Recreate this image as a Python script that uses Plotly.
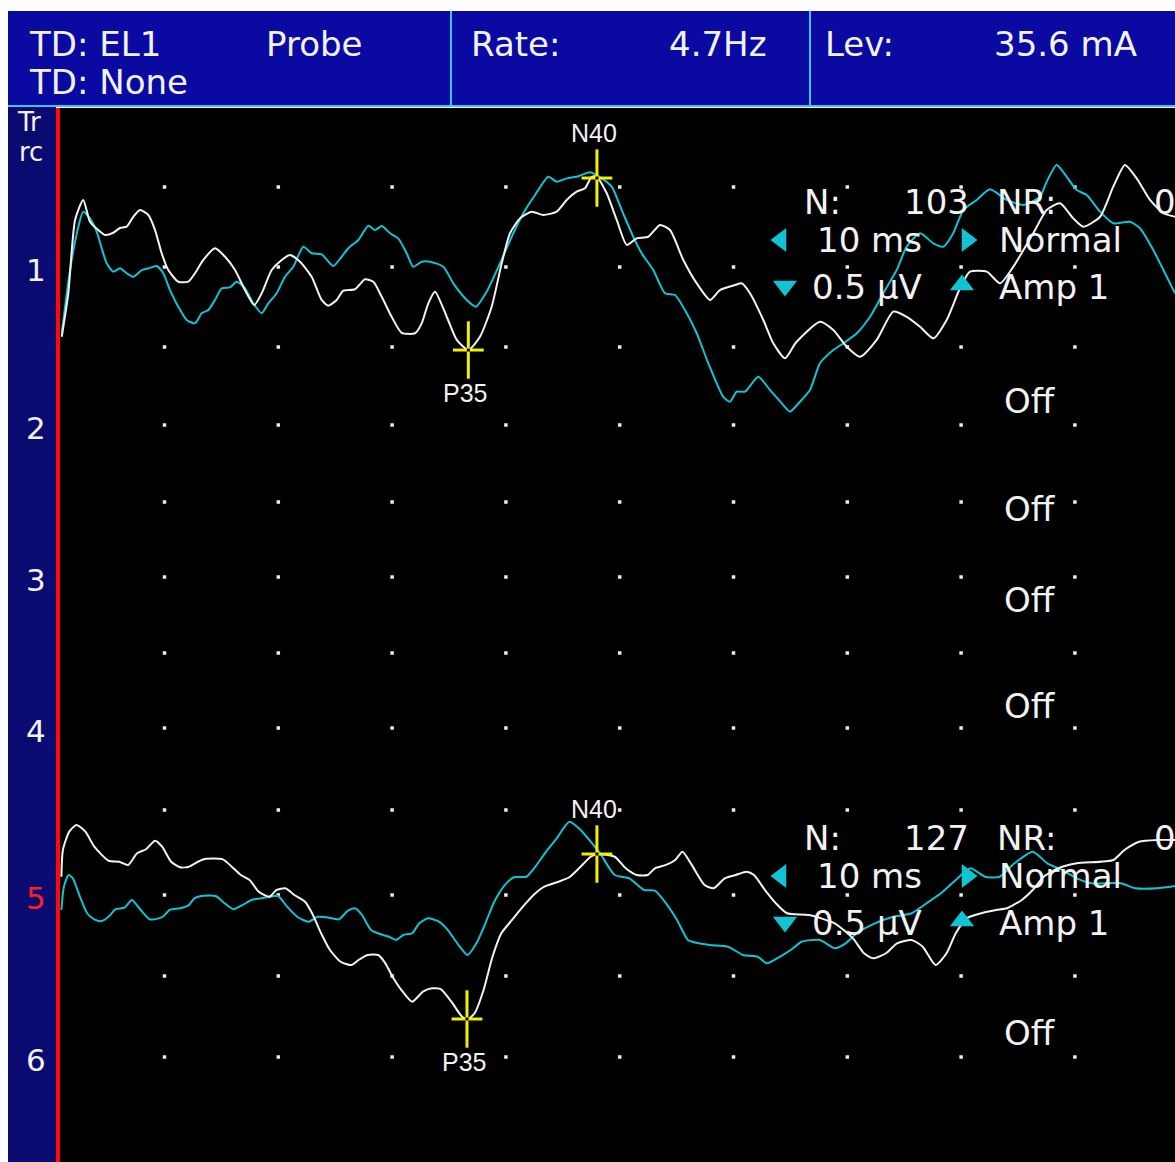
import plotly.graph_objects as go

# ---------------- figure geometry ----------------
W, H = 1175, 1162
PL, PT = 60, 108            # plot-area left / top (pixels)
MS_PER_PX = 1 / 11.38       # 10 ms per division
T_AT_ZERO_PX = 50.7         # pixel column of t = 0 ms
UV_PER_PX = 1 / 160.0       # 0.5 uV per division
Y_TOP = (H - PT) * UV_PER_PX

def xp(px):  # pixel column -> paper x
    return (px - PL) / (W - PL)

def yp(py):  # pixel row -> paper y
    return (H - py) / (H - PT)

# ---------------- data ----------------
# Trace 1 (upper channel) — latency in ms, amplitude in uV relative to row "1"
tr1_white_t = [0.97,1.55,2.14,2.86,3.45,4.18,4.77,5.50,6.09,6.68,
               7.26,7.85,8.58,9.17,9.75,10.33,11.21,12.09,12.68,13.41,
               14.44,15.32,16.20,17.07,17.89,18.54,19.42,20.30,21.03,21.91,
               22.93,23.81,24.39,25.13,25.71,26.74,27.62,28.35,29.09,29.96,
               30.84,32.01,32.60,33.18,33.77,34.80,35.68,36.70,37.72,38.75,
               39.63,40.36,41.24,42.27,43.29,44.46,45.34,46.22,46.95,47.54,
               47.98,48.86,49.74,50.62,51.49,52.51,53.54,54.42,55.59,56.77,
               57.94,58.81,60.13,60.72,61.45,62.62,63.50,64.53,65.49,67.60,
               68.77,69.95,71.12,72.58,74.04,75.22,76.39,77.56,78.73,79.90,
               80.78,82.25,83.42,84.59,86.34,87.52,88.69,89.86,90.74,92.21,
               93.37,94.40,95.43,96.60,97.77,98.80]
tr1_white_uv = [-0.436,-0.163,0.294,0.419,0.283,0.231,0.200,0.214,0.244,0.252,
                0.314,0.356,0.325,0.231,0.086,-0.019,-0.092,-0.092,-0.039,0.044,
                0.117,0.064,-0.019,-0.144,-0.238,-0.164,-0.019,0.044,0.075,0.033,
                -0.061,-0.206,-0.242,-0.206,-0.148,-0.139,-0.077,-0.092,-0.186,-0.311,
                -0.411,-0.414,-0.352,-0.227,-0.154,-0.311,-0.456,-0.519,-0.436,-0.248,
                0.023,0.211,0.304,0.346,0.325,0.346,0.419,0.471,0.492,0.564,
                0.564,0.461,0.294,0.138,0.179,0.189,0.263,0.231,0.044,-0.102,
                -0.206,-0.144,-0.113,-0.102,-0.164,-0.331,-0.477,-0.571,-0.472,-0.342,
                -0.394,-0.498,-0.561,-0.456,-0.279,-0.311,-0.373,-0.446,-0.331,-0.133,
                -0.029,-0.029,-0.102,0.002,0.211,0.356,0.398,0.304,0.252,0.314,
                0.502,0.638,0.554,0.419,0.336,0.314]

tr1_cyan_t = [0.97,1.70,2.43,2.86,3.45,4.04,4.48,4.92,5.50,6.09,
              6.68,7.26,8.00,8.58,9.31,9.89,10.48,11.21,11.95,12.68,
              13.27,13.85,14.44,15.03,15.76,16.34,17.07,17.80,18.54,19.12,
              19.86,20.59,21.32,22.20,22.93,23.81,24.83,25.57,26.15,27.03,
              27.91,28.50,29.09,29.82,30.54,31.28,31.86,32.60,33.33,34.50,
              35.38,36.56,37.37,38.31,39.48,40.65,41.53,42.56,43.73,44.46,
              45.34,46.22,47.39,48.42,49.30,50.18,51.19,51.93,52.95,53.98,
              54.86,55.89,56.77,57.79,59.10,59.69,60.28,61.01,62.18,63.21,
              64.38,64.96,65.84,66.72,67.60,68.77,69.65,70.83,72.00,73.16,
              74.34,75.22,76.39,77.56,78.44,79.31,80.19,81.37,82.54,84.01,
              85.47,86.93,87.52,88.40,89.28,90.16,91.04,92.21,93.37,94.84,
              95.72,96.89,98.07,98.80]
tr1_cyan_uv = [-0.414,-0.019,0.252,0.346,0.304,0.221,0.117,0.023,-0.029,-0.008,
               -0.039,-0.061,-0.019,-0.008,0.006,-0.039,-0.144,-0.248,-0.331,-0.352,
               -0.289,-0.269,-0.206,-0.133,-0.127,-0.092,-0.133,-0.227,-0.289,-0.227,
               -0.164,-0.061,0.002,0.127,0.086,0.079,0.006,0.064,0.117,0.169,
               0.258,0.231,0.256,0.211,0.179,0.086,0.002,0.033,0.033,0.002,
               -0.102,-0.206,-0.248,-0.154,0.023,0.211,0.336,0.450,0.564,0.533,
               0.554,0.564,0.592,0.554,0.502,0.356,0.189,0.086,-0.019,-0.164,
               -0.175,-0.289,-0.414,-0.602,-0.811,-0.842,-0.779,-0.779,-0.686,-0.769,
               -0.863,-0.904,-0.842,-0.769,-0.602,-0.519,-0.477,-0.414,-0.311,-0.164,
               -0.019,0.127,0.211,0.148,0.127,0.211,0.356,0.419,0.486,0.419,
               0.388,0.439,0.533,0.638,0.564,0.481,0.450,0.346,0.273,0.283,
               0.242,0.106,-0.061,-0.164]

# Trace 5 (lower channel) — amplitude relative to row "5"
tr5_white_t = [0.94,1.07,1.63,2.26,3.05,3.83,5.09,6.03,6.81,7.59,
               8.38,9.17,9.79,10.58,11.36,12.14,12.94,13.56,15.13,15.91,
               16.70,17.48,18.27,19.21,19.83,20.62,21.41,22.35,22.97,23.76,
               24.54,25.48,26.42,27.06,27.84,28.78,29.41,30.04,30.82,31.76,
               32.71,33.49,34.27,35.21,36.15,36.63,37.25,38.04,38.82,39.60,
               40.54,41.49,42.43,43.37,44.63,45.57,46.51,47.45,48.08,49.56,
               50.53,51.49,52.46,53.10,54.07,54.88,55.52,56.33,57.45,58.26,
               59.23,60.19,61.16,61.80,62.77,63.73,64.70,66.63,68.89,70.50,
               71.47,72.28,73.40,74.37,75.66,76.63,77.75,78.72,79.53,80.49,
               81.78,83.07,84.03,85.33,86.29,87.26,88.55,90.16,93.38,94.35,
               95.63,97.25,98.80]
tr5_white_uv = [0.114,0.281,0.396,0.438,0.396,0.302,0.214,0.208,0.188,0.261,
                0.286,0.339,0.302,0.208,0.173,0.177,0.208,0.225,0.223,0.177,
                0.125,0.094,0.021,-0.011,0.031,0.042,0.000,-0.042,-0.114,-0.239,
                -0.344,-0.417,-0.438,-0.406,-0.375,-0.375,-0.427,-0.511,-0.594,-0.667,
                -0.604,-0.583,-0.589,-0.667,-0.761,-0.777,-0.739,-0.594,-0.386,-0.239,
                -0.156,-0.073,0.000,0.052,0.083,0.111,0.173,0.239,0.256,0.239,
                0.167,0.125,0.125,0.167,0.188,0.219,0.271,0.188,0.063,0.042,
                0.104,0.125,0.146,0.125,0.031,-0.052,-0.114,-0.125,-0.177,-0.271,
                -0.364,-0.396,-0.364,-0.302,-0.281,-0.323,-0.438,-0.364,-0.239,-0.146,
                -0.114,-0.094,-0.083,-0.031,0.031,0.114,0.167,0.198,0.219,0.281,
                0.333,0.344,0.344]

tr5_cyan_t = [0.94,1.16,1.57,1.95,2.57,3.20,3.83,4.46,5.09,5.71,
              6.49,7.13,7.91,8.69,9.48,9.95,10.42,11.36,12.14,12.62,
              13.24,14.50,15.28,16.07,16.85,17.64,18.43,19.21,19.99,20.77,
              21.72,22.66,23.44,24.23,25.33,26.12,26.74,27.36,28.15,28.94,
              29.72,30.35,30.98,31.76,32.39,33.17,34.11,34.90,35.84,36.63,
              37.41,38.20,38.98,39.92,40.70,41.80,42.59,43.53,44.47,45.57,
              46.51,47.45,48.27,49.56,50.84,52.14,53.10,54.07,55.04,56.00,
              56.97,57.94,59.54,60.83,62.13,62.93,64.06,65.03,65.99,67.60,
              68.89,69.86,70.83,72.43,74.05,75.66,76.95,78.23,79.53,80.82,
              82.10,83.39,84.68,86.29,87.58,88.87,90.16,91.45,94.02,95.32,
              97.25,98.80]
tr5_cyan_uv = [-0.094,0.052,0.125,0.104,-0.011,-0.114,-0.152,-0.163,-0.136,-0.089,
               -0.079,-0.031,-0.094,-0.152,-0.146,-0.131,-0.094,-0.083,-0.063,-0.021,
               -0.006,-0.006,-0.052,-0.089,-0.063,-0.031,-0.021,-0.011,-0.006,-0.073,
               -0.139,-0.167,-0.136,-0.139,-0.152,-0.098,-0.083,-0.125,-0.219,-0.244,
               -0.261,-0.281,-0.250,-0.239,-0.177,-0.146,-0.167,-0.219,-0.313,-0.375,
               -0.302,-0.177,-0.042,0.063,0.111,0.114,0.177,0.271,0.354,0.458,
               0.411,0.333,0.261,0.125,0.104,0.031,0.027,-0.052,-0.156,-0.281,
               -0.302,-0.313,-0.323,-0.375,-0.386,-0.427,-0.386,-0.344,-0.292,-0.281,
               -0.333,-0.302,-0.239,-0.177,-0.136,-0.114,-0.052,0.011,0.094,0.167,
               0.114,0.114,0.198,0.271,0.198,0.156,0.104,0.073,0.073,0.042,
               0.042,0.056]

# Peak markers (latency ms, amplitude uV)
peak_names = ["P35", "N40"]
tr1_peak_t = [36.70, 48.00]
tr1_peak_uv = [-0.519, 0.556]
tr5_peak_t = [36.58, 48.00]
tr5_peak_uv = [-0.775, 0.256]

# Channel info
tr1_info = {"N": "103", "NR": "0", "time": "10 ms", "amp": "0.5 µV", "filter": "Normal", "gain": "Amp 1"}
tr5_info = {"N": "127", "NR": "0", "time": "10 ms", "amp": "0.5 µV", "filter": "Normal", "gain": "Amp 1"}

# Header
header_left = ["TD: EL1", "TD: None"]
header_probe = "Probe"
rate_label, rate_value = "Rate:", "4.7Hz"
lev_label, lev_value = "Lev:", "35.6 mA"

# Grid (time divisions in ms; row positions in display uV from bottom)
grid_t = [10, 20, 30, 40, 50, 60, 70, 80, 90]
row_px = [187, 267, 347, 425, 502, 577, 653, 728, 810, 895, 976, 1057]
grid_rows = [(H - p) * UV_PER_PX for p in row_px]
tr1_base = grid_rows[1]
tr5_base = grid_rows[9]
trace_labels = ["1", "2", "3", "4", "5", "6"]
trace_label_rows = [1, 3, 5, 7, 9, 11]
off_rows_px = [401, 509, 600, 706, 1033]

WHITE = "#f2f2f2"
CYAN = "#10c4d4"
YELLOW = "#f0f000"
HEADER_BLUE = "#0a0aa2"
STRIP_BLUE = "#0a0a70"
LINE_CYAN = "#3cc4ec"
FONT = "DejaVu Sans"

fig = go.Figure()

# grid dots
gx, gy = [], []
for r in grid_rows:
    for t in grid_t:
        gx.append(t)
        gy.append(r)
fig.add_trace(go.Scatter(x=gx, y=gy, mode="markers",
                         marker=dict(symbol="square", size=3.5, color="#ececec", line=dict(width=0)),
                         hoverinfo="skip", showlegend=False))

def add_wave(t, uv, base, color):
    fig.add_trace(go.Scatter(x=t, y=[base + v for v in uv], mode="lines",
                             line=dict(color=color, width=2, shape="spline", smoothing=0.6),
                             hoverinfo="skip", showlegend=False))

add_wave(tr1_cyan_t, tr1_cyan_uv, tr1_base, CYAN)
add_wave(tr1_white_t, tr1_white_uv, tr1_base, WHITE)
add_wave(tr5_cyan_t, tr5_cyan_uv, tr5_base, CYAN)
add_wave(tr5_white_t, tr5_white_uv, tr5_base, WHITE)

# peak cursors
for pt, pv, base in [(tr1_peak_t, tr1_peak_uv, tr1_base), (tr5_peak_t, tr5_peak_uv, tr5_base)]:
    ys = [base + v for v in pv]
    fig.add_trace(go.Scatter(x=pt, y=ys, mode="markers",
                             marker=dict(symbol="line-ns", size=41, line=dict(color=YELLOW, width=3)),
                             hoverinfo="skip", showlegend=False))
    fig.add_trace(go.Scatter(x=pt, y=ys, mode="markers",
                             marker=dict(symbol="line-ew", size=22, line=dict(color=YELLOW, width=3)),
                             hoverinfo="skip", showlegend=False))
    fig.add_trace(go.Scatter(x=pt, y=ys, mode="markers",
                             marker=dict(symbol="square", size=3, color="black", line=dict(width=0)),
                             hoverinfo="skip", showlegend=False))
    for name, x, y in zip(peak_names, pt, ys):
        shift = -43 if name.startswith("P") else 45
        fig.add_annotation(x=x, y=y, xref="x", yref="y", text=name, showarrow=False,
                           yshift=shift, xshift=-3,
                           font=dict(family="Liberation Sans", size=25, color=WHITE))

annotations = []
def txt(text, px, py, size=34, color=WHITE, anchor="left", family=FONT):
    annotations.append(dict(text=text, x=xp(px), y=yp(py), xref="paper", yref="paper",
                            xanchor=anchor, yanchor="middle", showarrow=False,
                            font=dict(family=family, size=size, color=color)))

# header
txt(header_left[0], 27, 44)
txt(header_left[1], 27, 82)
txt(header_probe, 264, 44)
txt(rate_label, 469, 44)
txt(rate_value, 768, 44, anchor="right")
txt(lev_label, 823, 44)
txt(lev_value, 992, 44)

# left strip labels
txt("Tr", 15, 122, size=26)
txt("rc", 17, 152, size=26)
for lab, ri in zip(trace_labels, trace_label_rows):
    py = row_px[ri] + 3
    txt(lab, 36, py, size=31, color="#ff2020" if lab == "5" else WHITE, anchor="center")

# channel info blocks
def info_block(info, top_py):
    txt("N:", 802, top_py)
    txt(info["N"], 971, top_py, anchor="right")
    txt("NR:", 995, top_py)
    txt(info["NR"], 1152, top_py)
    txt(info["time"], 815, top_py + 38)
    txt(info["filter"], 997, top_py + 38)
    txt(info["amp"], 810, top_py + 85)
    txt(info["gain"], 997, top_py + 85)

info_block(tr1_info, 202)
info_block(tr5_info, 838)
for py in off_rows_px:
    txt("Off", 1002, py)

fig.update_layout(annotations=list(fig.layout.annotations) + annotations)

# cyan arrow icons
icon_x, icon_y, icon_sym = [], [], []
for top_py in (202, 838):
    for px, dy, sym in [(781, 38, "triangle-left"), (967, 38, "triangle-right"),
                        (785, 84, "triangle-down"), (962, 83, "triangle-up")]:
        icon_x.append((px - T_AT_ZERO_PX) * MS_PER_PX)
        icon_y.append((H - (top_py + dy)) * UV_PER_PX)
        icon_sym.append(sym)
fig.add_trace(go.Scatter(x=icon_x, y=icon_y, mode="markers",
                         marker=dict(symbol=icon_sym, size=21, color=CYAN, line=dict(width=0)),
                         hoverinfo="skip", showlegend=False))

shapes = [
    dict(type="rect", xref="paper", yref="paper", x0=xp(8), x1=xp(W), y0=yp(106), y1=yp(11),
         fillcolor=HEADER_BLUE, line=dict(width=0), layer="below"),
    dict(type="rect", xref="paper", yref="paper", x0=xp(8), x1=xp(56), y0=yp(H), y1=yp(106),
         fillcolor=STRIP_BLUE, line=dict(width=0), layer="below"),
    dict(type="line", xref="paper", yref="paper", x0=xp(8), x1=xp(W), y0=yp(106), y1=yp(106),
         line=dict(color=LINE_CYAN, width=2)),
    dict(type="line", xref="paper", yref="paper", x0=xp(451), x1=xp(451), y0=yp(11), y1=yp(106),
         line=dict(color=LINE_CYAN, width=2)),
    dict(type="line", xref="paper", yref="paper", x0=xp(810), x1=xp(810), y0=yp(11), y1=yp(106),
         line=dict(color=LINE_CYAN, width=2)),
    dict(type="line", xref="paper", yref="paper", x0=xp(58), x1=xp(58), y0=yp(H), y1=yp(108),
         line=dict(color="#ff0a0a", width=4)),
]

fig.update_layout(
    width=W, height=H,
    margin=dict(l=PL, r=0, t=PT, b=0, pad=0),
    paper_bgcolor="white", plot_bgcolor="black",
    xaxis=dict(range=[(PL - T_AT_ZERO_PX) * MS_PER_PX, (W - T_AT_ZERO_PX) * MS_PER_PX],
               visible=False, fixedrange=True),
    yaxis=dict(range=[0, Y_TOP], visible=False, fixedrange=True),
    shapes=shapes,
    showlegend=False,
    hovermode=False,
)

fig.write_html("out.html", config={"displayModeBar": False})
